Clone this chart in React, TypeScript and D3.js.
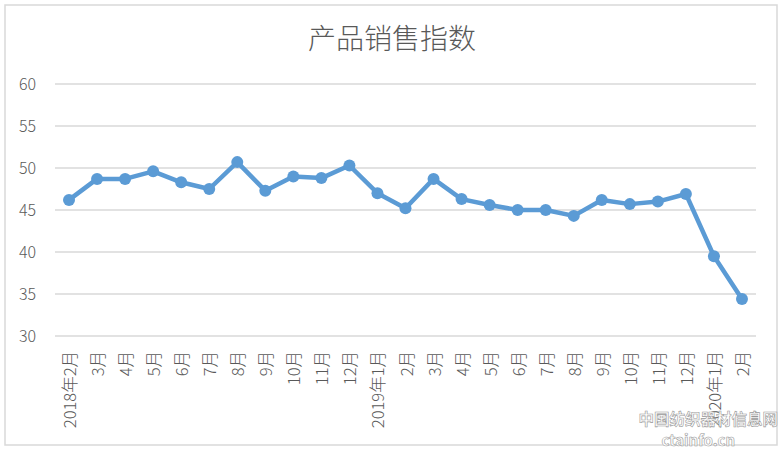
import React from "react";
import * as d3 from "d3";

const categories = [
  "2018年2月", "3月", "4月", "5月", "6月", "7月", "8月", "9月", "10月", "11月", "12月",
  "2019年1月", "2月", "3月", "4月", "5月", "6月", "7月", "8月", "9月", "10月", "11月", "12月",
  "2020年1月", "2月",
];
const values = [
  46.2, 48.7, 48.7, 49.6, 48.3, 47.5, 50.7, 47.3, 49.0, 48.8, 50.3,
  47.0, 45.2, 48.7, 46.3, 45.6, 45.0, 45.0, 44.3, 46.2, 45.7, 46.0, 46.9,
  39.5, 34.4,
];
const yTicks = [30, 35, 40, 45, 50, 55, 60];
const title = "产品销售指数";

const W = 783;
const H = 451;
const font = "'Noto Sans CJK SC', 'Liberation Sans', sans-serif";

export default function App() {
  const x = d3.scaleBand<string>().domain(categories.map((c, i) => i + "")).range([55, 756]);
  const y = d3.scaleLinear().domain([30, 60]).range([336, 84]);
  const line = d3
    .line<number>()
    .x((_, i) => (x(i + "") as number) + x.bandwidth() / 2)
    .y((d) => y(d));
  return (
    <div style={{ position: "absolute", left: 0, top: 0 }}>
      <svg width={W} height={H} style={{ display: "block", background: "#fff" }}>
        <rect x={5} y={5} width={772} height={440} fill="#fff" stroke="#d9d9d9" strokeWidth={1.5} />
        <text x={392} y={49} textAnchor="middle" fontFamily={font} fontWeight={300} fontSize={28} fill="#595959">
          {title}
        </text>
        {yTicks.map((t) => (
          <g key={t}>
            <line x1={55} x2={756} y1={y(t)} y2={y(t)} stroke="#d9d9d9" strokeWidth={1.3} />
            <text x={36} y={y(t)} dy="0.35em" textAnchor="end" fontFamily={font} fontWeight={300} fontSize={16} fill="#595959">
              {t}
            </text>
          </g>
        ))}
        <path d={line(values) || ""} fill="none" stroke="#5b9bd5" strokeWidth={4.5} strokeLinejoin="round" />
        {values.map((v, i) => (
          <circle key={i} cx={(x(i + "") as number) + x.bandwidth() / 2} cy={y(v)} r={6} fill="#5b9bd5" />
        ))}
        {categories.map((c, i) => {
          const cx = (x(i + "") as number) + x.bandwidth() / 2;
          return (
            <text
              key={i}
              transform={`translate(${cx + 7},${351}) rotate(-90)`}
              textAnchor="end"
              fontFamily={font}
              fontWeight={300}
              fontSize={16.5}
              fill="#595959"
            >
              {c}
            </text>
          );
        })}
        <g fontFamily={font} fontWeight="bold" fill="#fff" stroke="#999" strokeWidth={0.6} textAnchor="end">
          <text x={778} y={425} fontSize={15.5}>中国纺织器材信息网</text>
          <text x={735} y={446} fontSize={15}>ctainfo.cn</text>
        </g>
      </svg>
    </div>
  );
}
